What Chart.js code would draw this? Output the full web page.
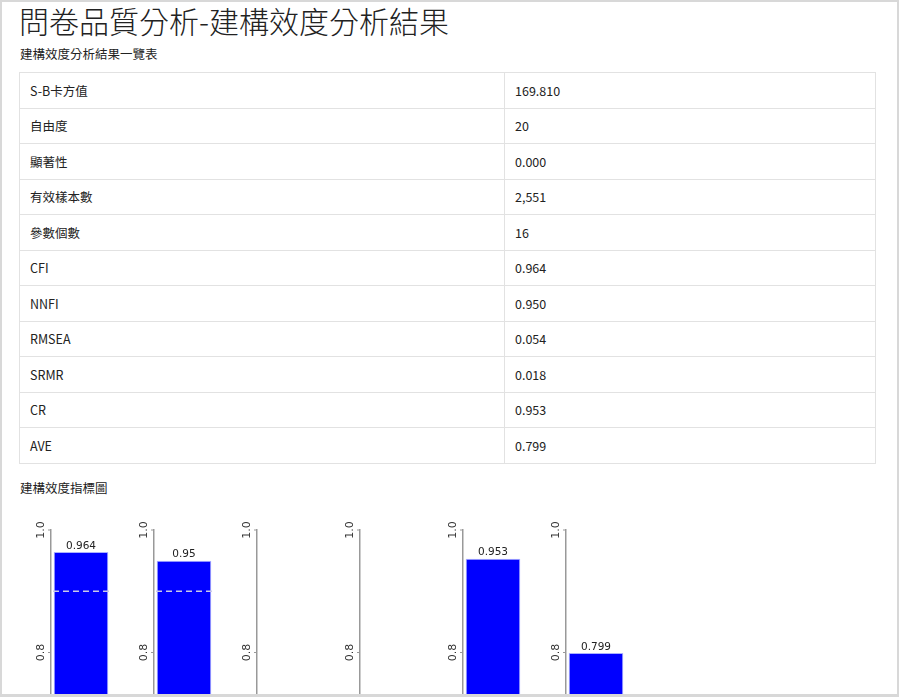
<!DOCTYPE html>
<html>
<head>
<meta charset="utf-8">
<script src="https://cdn.jsdelivr.net/npm/chart.js@4/dist/chart.umd.min.js"></script>
<style>
  html, body { margin: 0; padding: 0; }
  body { width: 899px; height: 697px; overflow: hidden; font-family: "Noto Sans CJK TC", "Noto Sans", sans-serif; color: #222; }
  #frame { position: absolute; left: 0; top: 0; width: 899px; height: 697px; box-sizing: border-box; border: 2px solid #d8d8d8; border-bottom-width: 3px; pointer-events: none; z-index: 5; }
  h1 { position: absolute; left: 19px; top: 0px; margin: 0; font-size: 30px; line-height: 40px; font-weight: 300; color: #222; }
  .sub { position: absolute; left: 20px; font-size: 12.5px; }
  table { position: absolute; left: 19px; top: 72px; width: 857px; border-collapse: collapse; font-size: 12.5px; }
  td { border: 1px solid #e2e2e2; height: 34.5px; padding: 0 10px; }
  td:first-child { width: 464px; }
  .cv { position: absolute; top: 515px; }
</style>
</head>
<body>
<div id="frame"></div>
<h1>問卷品質分析-建構效度分析結果</h1>
<div class="sub" style="top:44px">建構效度分析結果一覽表</div>
<table id="tbl"></table>
<div class="sub" style="top:478px">建構效度指標圖</div>
<div id="charts"></div>
<script>
const rowLabels = ["S-B卡方值", "自由度", "顯著性", "有效樣本數", "參數個數", "CFI", "NNFI", "RMSEA", "SRMR", "CR", "AVE"];
const rowValues = ["169.810", "20", "0.000", "2,551", "16", "0.964", "0.950", "0.054", "0.018", "0.953", "0.799"];

const indexNames = ["CFI", "NNFI", "RMSEA", "SRMR", "CR", "AVE"];
const indexValues = [0.964, 0.95, 0.054, 0.018, 0.953, 0.799];
const thresholds = [0.9, 0.9, null, null, null, null];
const tickValues = [0.8, 1.0];

const tbl = document.getElementById("tbl");
rowLabels.forEach((lab, i) => {
    const tr = document.createElement("tr");
    tr.innerHTML = `<td>${lab}</td><td>${rowValues[i]}</td>`;
    tbl.appendChild(tr);
});

const extras = {
    id: "extras",
    afterDatasetsDraw(chart, args, opts) {
        const ctx = chart.ctx;
        const y = chart.scales.y;
        const area = chart.chartArea;
        ctx.save();
        // threshold line
        if (opts.threshold != null) {
            const py = y.getPixelForValue(opts.threshold);
            ctx.strokeStyle = "#c8c8e8";
            ctx.lineWidth = 1.5;
            ctx.setLineDash([6, 4]);
            ctx.beginPath();
            ctx.moveTo(area.left + 2, py);
            ctx.lineTo(area.right - 1, py);
            ctx.stroke();
            ctx.setLineDash([]);
        }
        // rotated tick labels
        ctx.fillStyle = "#333";
        ctx.font = "11px 'DejaVu Sans', sans-serif";
        ctx.textAlign = "center";
        ctx.textBaseline = "bottom";
        tickValues.forEach(v => {
            const py = y.getPixelForValue(v);
            ctx.strokeStyle = "#999";
            ctx.lineWidth = 1;
            ctx.beginPath();
            ctx.moveTo(area.left - 3, py);
            ctx.lineTo(area.left, py);
            ctx.stroke();
            ctx.save();
            ctx.translate(area.left - 4, py);
            ctx.rotate(-Math.PI / 2);
            ctx.fillText(v.toFixed(1), 0, 0);
            ctx.restore();
        });
        // value label
        const v = chart.data.datasets[0].data[0];
        if (v >= y.min) {
            const bar = chart.getDatasetMeta(0).data[0];
            ctx.font = "10.5px 'DejaVu Sans', sans-serif";
            ctx.fillStyle = "#222";
            ctx.textBaseline = "bottom";
            ctx.fillText(String(v), bar.x, bar.y - 1);
        }
        ctx.restore();
    }
};

const holder = document.getElementById("charts");
indexNames.forEach((name, i) => {
    const c = document.createElement("canvas");
    c.className = "cv";
    c.width = 112; c.height = 260;
    c.style.left = (i * 103) + "px";
    c.style.width = "112px";
    c.style.height = "260px";
    holder.appendChild(c);
    new Chart(c, {
        type: "bar",
        data: {
            labels: [name],
            datasets: [{
                data: [indexValues[i]],
                backgroundColor: "#0000ff",
                borderColor: "#aab0ff",
                borderWidth: 1,
                barPercentage: 0.91,
                categoryPercentage: 1
            }]
        },
        options: {
            responsive: false,
            animation: false,
            layout: { padding: { left: 43, right: 1, top: 15, bottom: 0 } },
            plugins: {
                legend: { display: false },
                tooltip: { enabled: false },
                extras: { threshold: thresholds[i] }
            },
            scales: {
                x: { display: false },
                y: {
                    min: 0.6, max: 1.0,
                    ticks: { display: false },
                    grid: { display: false },
                    border: { display: true, color: "#999", width: 1.5 }
                }
            }
        },
        plugins: [extras]
    });
});
</script>
</body>
</html>
